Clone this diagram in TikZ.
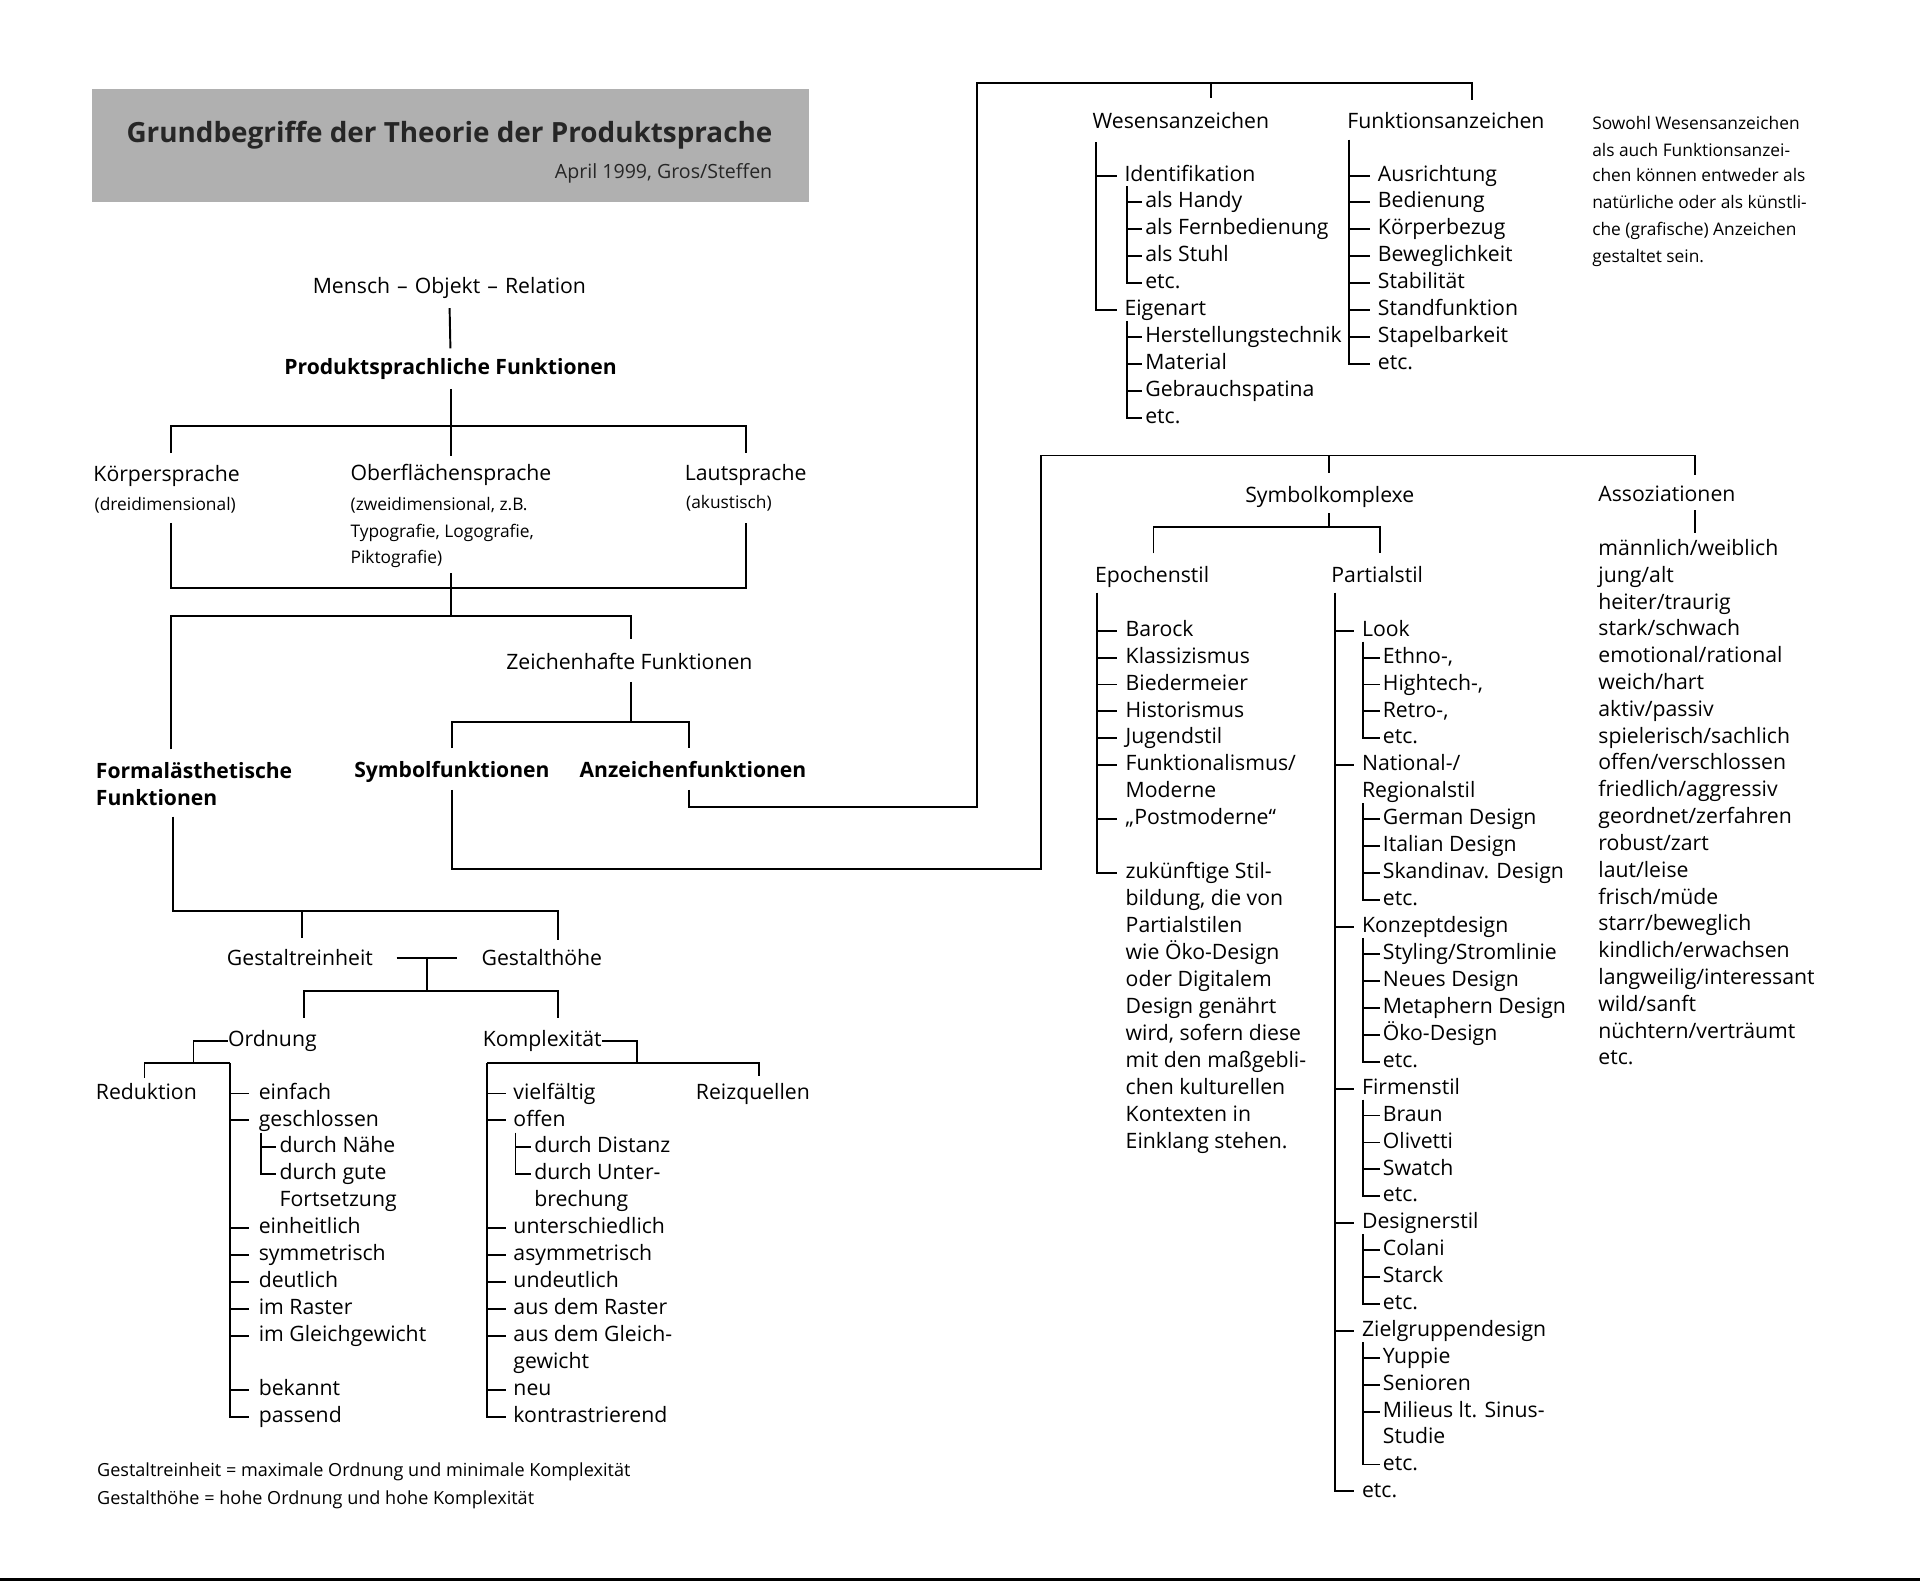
\documentclass[tikz,border=0pt]{standalone}
\usepackage{fontspec}
\setmainfont{Open Sans}
\newcommand\fsM{\fontsize{10.4pt}{12pt}\selectfont}
\newcommand\fsB{\fontsize{10.35pt}{12pt}\selectfont\bfseries}
\newcommand\fsS{\fontsize{8.5pt}{10pt}\selectfont}
\newcommand\fsF{\fontsize{8.85pt}{10pt}\selectfont}
\newcommand\fsU{\fontsize{9.6pt}{11pt}\selectfont}
\newcommand\fsT{\fontsize{13.65pt}{16pt}\selectfont\bfseries}
\begin{document}
\begin{tikzpicture}[x=0.6pt,y=-0.6pt,
  ln/.style={line width=0.95pt},
  lbl/.style={inner sep=0pt, anchor=west, text height=0.75em, text depth=0.2em, font=\fsM, yshift=-1.2pt},
  hd/.style={lbl, font=\fsB},
  sm/.style={lbl, font=\fsS},
  fnote/.style={lbl, font=\fsF}]
\useasboundingbox (0,0) rectangle (1568,1292.8);
\draw[line width=1.6pt] (0,1290) -- (1568,1290);

% title
\node[fill=black!31, inner sep=0pt, minimum width=351pt, minimum height=55.8pt, anchor=north west] (tbox) at (75,72) {};
\node[font=\fsT, text=black!85, anchor=base west, inner sep=0pt] (title) at (103,116) {Grundbegriffe der Theorie der Produktsprache};
\node[font=\fsU, text=black!85, anchor=base east, inner sep=0pt] (subt) at (631,146) {April 1999, Gros/Steffen};

% central tree
\node[lbl, anchor=center] (mor) at (367,233) {Mensch\,\,--\,\,Objekt\,\,--\,\,Relation};
\node[hd, anchor=center] (ppf) at (368,299) {Produktsprachliche Funktionen};
\draw[ln, shorten <=5pt, shorten >=5pt] (mor.south) -- (ppf.north);
\coordinate (j1) at (368,372);
\draw[ln, shorten <=5pt] (ppf.south) -- (j1);
\coordinate (j2) at (140,370); \coordinate (j3) at (609,370);
\coordinate (j4) at (140,348); \coordinate (j5) at (609,348);
\draw[ln] (j2) -- (j4) -- (j5) -- (j3);

\node[lbl] (koe) at (76,387) {Körpersprache};
\node[sm] (koe2) at (77,410) {(dreidimensional)};
\node[lbl] (ofl) at (286,386) {Oberflächensprache};
\node[sm] (ofl2) at (286,410) {(zweidimensional, z.B.};
\node[sm] (ofl3) at (286,432) {Typografie, Logografie,};
\node[sm] (ofl4) at (286,454) {Piktografie)};
\node[lbl] (lau) at (559,386) {Lautsprache};
\node[sm] (lau2) at (560,409) {(akustisch)};

\coordinate (k1) at (140,427); \coordinate (k2) at (140,480);
\coordinate (k3) at (609,480); \coordinate (k4) at (609,427);
\draw[ln] (k1) -- (k2) -- (k3) -- (k4);
\coordinate (k5) at (368,468); \coordinate (k6) at (368,503);
\draw[ln] (k5) -- (k6);
\coordinate (l1) at (140,612); \coordinate (l2) at (515,503); \coordinate (l3) at (515,522);
\draw[ln] (l1) |- (l2) -- (l3);

\node[lbl, anchor=center] (zf) at (514,540) {Zeichenhafte Funktionen};
\coordinate (m1) at (515,590);
\draw[ln, shorten <=4pt] (zf.south -| m1) -- (m1);
\coordinate (m2) at (369,611); \coordinate (m3) at (563,611);
\draw[ln] (m2) |- (m1) -| (m3);

\node[hd] (fae) at (78,629) {Formalästhetische};
\node[hd] (fae2) at (78,651) {Funktionen};
\node[hd] (syf) at (289,628) {Symbolfunktionen};
\node[hd] (azf) at (473,628) {Anzeichenfunktionen};

% Anzeichen route
\coordinate (n1) at (563,645); \coordinate (n2) at (798,659);
\coordinate (n3) at (798,68); \coordinate (n4) at (1202,82);
\coordinate (n5) at (989,68); \coordinate (n6) at (989,80);
\draw[ln] (n1) |- (n2) -- (n3) -| (n4);
\draw[ln] (n5) -- (n6);

% Symbol route
\coordinate (s1) at (369,645); \coordinate (s2) at (850,710);
\coordinate (s3) at (850,372); \coordinate (s4) at (1384,388);
\coordinate (s5) at (1085,372); \coordinate (s6) at (1085,386);
\draw[ln] (s1) |- (s2) -- (s3) -| (s4);
\draw[ln] (s5) -- (s6);

% Formal route
\coordinate (p1) at (141,667); \coordinate (p2) at (456,744); \coordinate (p3) at (456,768);
\coordinate (p4) at (247,744); \coordinate (p5) at (247,766);
\draw[ln] (p1) |- (p2) -- (p3);
\draw[ln] (p4) -- (p5);

\node[lbl] (gr) at (185,782) {Gestaltreinheit};
\node[lbl] (gh) at (393,782) {Gestalthöhe};
\coordinate (q1) at (324,782); \coordinate (q2) at (373,782);
\coordinate (q3) at (349,782); \coordinate (q4) at (349,809);
\coordinate (q5) at (248,831); \coordinate (q6) at (456,809); \coordinate (q7) at (456,831);
\draw[ln] (q1) -- (q2);
\draw[ln] (q3) -- (q4);
\draw[ln] (q5) |- (q6) -- (q7);

% Ordnung
\node[lbl] (ord) at (186,848) {Ordnung};
\coordinate (r1) at (158,868);
\draw[ln] (ord.west) -| (r1);
\coordinate (r2) at (118,880); \coordinate (rsp) at (188,868);
\draw[ln] (r2) |- (rsp);
\node[lbl] (red) at (78,891) {Reduktion};
\foreach \y/\n/\t in {891/oa/{einfach}, 913/ob/{geschlossen}, 1001/oc/{einheitlich}, 1023/od/{symmetrisch}, 1045/oe/{deutlich}, 1067/of/{im Raster}, 1089/og/{im Gleichgewicht}, 1133/oh/{bekannt}, 1155/oi/{passend}}
  \node[lbl] (\n) at (211,\y) {\t};
\node[lbl] (osa) at (228,935) {durch Nähe};
\node[lbl] (osb) at (228,957) {durch gute};
\node[lbl] (osc) at (228,979) {Fortsetzung};
\foreach \n in {oa,ob,oc,od,oe,of,og,oh}
  \draw[ln] (\n.west -| rsp) -- ([xshift=-4.8pt]\n.west);
\draw[ln] (rsp) |- ([xshift=-4.8pt]oi.west);
\coordinate (osp) at (213,925);
\draw[ln] (osa.west -| osp) -- ([xshift=-1.5pt]osa.west);
\draw[ln] (osp) |- ([xshift=-1.5pt]osb.west);

% Komplexitaet
\node[lbl] (kpx) at (394,848) {Komplexität};
\coordinate (t1) at (520,868);
\draw[ln] (kpx.east) -| (t1);
\coordinate (tsp) at (398,868); \coordinate (t2) at (620,879);
\draw[ln] (tsp) -| (t2);
\node[lbl] (rzq) at (568,891) {Reizquellen};
\foreach \y/\n/\t in {891/ka/{vielfältig}, 913/kb/{offen}, 1001/kc/{unterschiedlich}, 1023/kd/{asymmetrisch}, 1045/ke/{undeutlich}, 1067/kf/{aus dem Raster}, 1089/kg/{aus dem Gleich-}, 1133/kh/{neu}, 1155/ki/{kontrastrierend}}
  \node[lbl] (\n) at (419,\y) {\t};
\node[lbl] (kg2) at (419,1111) {gewicht};
\node[lbl] (ksa) at (436,935) {durch Distanz};
\node[lbl] (ksb) at (436,957) {durch Unter-};
\node[lbl] (ksc) at (436,979) {brechung};
\foreach \n in {ka,kb,kc,kd,ke,kf,kg,kh}
  \draw[ln] (\n.west -| tsp) -- ([xshift=-3.6pt]\n.west);
\draw[ln] (tsp) |- ([xshift=-3.6pt]ki.west);
\coordinate (ksp) at (421,925);
\draw[ln] (ksa.west -| ksp) -- ([xshift=-1.5pt]ksa.west);
\draw[ln] (ksp) |- ([xshift=-1.5pt]ksb.west);

\node[fnote] (fn1) at (79,1199) {Gestaltreinheit = maximale Ordnung und minimale Komplexität};
\node[fnote] (fn2) at (79,1222) {Gestalthöhe = hohe Ordnung und hohe Komplexität};

% Wesens- / Funktionsanzeichen
\node[lbl] (wes) at (892,98) {Wesensanzeichen};
\node[lbl] (fkt) at (1100,98) {Funktionsanzeichen};
\coordinate (wsp) at (895,116);
\node[lbl] (wa) at (918,142) {Identifikation};
\node[lbl] (wb) at (918,251) {Eigenart};
\draw[ln] (wa.west -| wsp) -- ([xshift=-3.6pt]wa.west);
\draw[ln] (wsp) |- ([xshift=-3.6pt]wb.west);
\foreach \y/\n/\t in {163/wa1/{als Handy}, 185/wa2/{als Fernbedienung}, 207/wa3/{als Stuhl}, 229/wa4/{etc.}, 273/wb1/{Herstellungstechnik}, 295/wb2/{Material}, 317/wb3/{Gebrauchspatina}, 339/wb4/{etc.}}
  \node[lbl] (\n) at (935,\y) {\t};
\coordinate (wasp) at (920,152); \coordinate (wbsp) at (920,262);
\foreach \n in {wa1,wa2,wa3}
  \draw[ln] (\n.west -| wasp) -- ([xshift=-1.2pt]\n.west);
\draw[ln] (wasp) |- ([xshift=-1.2pt]wa4.west);
\foreach \n in {wb1,wb2,wb3}
  \draw[ln] (\n.west -| wbsp) -- ([xshift=-1.2pt]\n.west);
\draw[ln] (wbsp) |- ([xshift=-1.2pt]wb4.west);

\coordinate (fsp) at (1102,114);
\foreach \y/\n/\t in {142/fa/{Ausrichtung}, 163/fb/{Bedienung}, 185/fc/{Körperbezug}, 207/fd/{Beweglichkeit}, 229/fe/{Stabilität}, 251/ff/{Standfunktion}, 273/fg/{Stapelbarkeit}, 295/fh/{etc.}}
  \node[lbl] (\n) at (1125,\y) {\t};
\foreach \n in {fa,fb,fc,fd,fe,ff,fg}
  \draw[ln] (\n.west -| fsp) -- ([xshift=-3.6pt]\n.west);
\draw[ln] (fsp) |- ([xshift=-3.6pt]fh.west);

\foreach \y/\n/\t in {99/na1/{Sowohl Wesensanzeichen}, 121/na2/{als auch Funktionsanzei-}, 142/na3/{chen können entweder als}, 164/na4/{natürliche oder als künstli-}, 186/na5/{che (grafische) Anzeichen}, 208/na6/{gestaltet sein.}}
  \node[sm] (\n) at (1300,\y) {\t};

% Symbolkomplexe
\node[lbl, anchor=center] (syk) at (1086,404) {Symbolkomplexe};
\coordinate (u1) at (1085,430);
\draw[ln, shorten <=3pt] (syk.south -| u1) -- (u1);
\coordinate (u2) at (942,452); \coordinate (u3) at (1127,452);
\draw[ln] (u2) |- (u1) -| (u3);
\node[lbl] (eps) at (894,469) {Epochenstil};
\node[lbl] (pas) at (1087,469) {Partialstil};

\coordinate (esp) at (896,484);
\foreach \y/\n/\t in {513/ea/{Barock}, 535/eb/{Klassizismus}, 557/ec/{Biedermeier}, 579/ed/{Historismus}, 601/ee/{Jugendstil}, 623/ef/{Funktionalismus/}, 645/ef2/{Moderne}, 667/eg/{„Postmoderne“}, 711/eh/{zukünftige Stil-}, 733/eh1/{bildung, die von}, 755/eh2/{Partialstilen}, 777/eh3/{wie Öko-Design}, 799/eh4/{oder Digitalem}, 821/eh5/{Design genährt}, 843/eh6/{wird, sofern diese}, 865/eh7/{mit den maßgebli-}, 887/eh8/{chen kulturellen}, 909/eh9/{Kontexten in}, 931/eh10/{Einklang stehen.}}
  \node[lbl] (\n) at (919,\y) {\t};
\foreach \n in {ea,eb,ec,ed,ee,ef,eg}
  \draw[ln] (\n.west -| esp) -- ([xshift=-4pt]\n.west);
\draw[ln] (esp) |- ([xshift=-4pt]eh.west);

\coordinate (psp) at (1090,484);
\foreach \y/\n/\t in {513/pa/{Look}, 623/pb/{National-/}, 645/pb2/{Regionalstil}, 755/pc/{Konzeptdesign}, 887/pd/{Firmenstil}, 997/pe/{Designerstil}, 1085/pf/{Zielgruppendesign}, 1216/pg/{etc.}}
  \node[lbl] (\n) at (1112,\y) {\t};
\foreach \n in {pa,pb,pc,pd,pe,pf}
  \draw[ln] (\n.west -| psp) -- ([xshift=-3.6pt]\n.west);
\draw[ln] (psp) |- ([xshift=-3.6pt]pg.west);

\foreach \y/\n/\t in {535/la1/{Ethno-,}, 557/la2/{Hightech-,}, 579/la3/{Retro-,}, 601/la4/{etc.}, 667/nb1/{German Design}, 689/nb2/{Italian Design}, 711/nb3/{Skandinav. Design}, 733/nb4/{etc.}, 777/kz1/{Styling/Stromlinie}, 799/kz2/{Neues Design}, 821/kz3/{Metaphern Design}, 843/kz4/{Öko-Design}, 865/kz5/{etc.}, 909/fi1/{Braun}, 931/fi2/{Olivetti}, 953/fi3/{Swatch}, 975/fi4/{etc.}, 1019/de1/{Colani}, 1041/de2/{Starck}, 1063/de3/{etc.}, 1107/zg1/{Yuppie}, 1129/zg2/{Senioren}, 1151/zg3/{Milieus lt. Sinus-}, 1172/zg3b/{Studie}, 1194/zg4/{etc.}}
  \node[lbl] (\n) at (1129,\y) {\t};
\coordinate (lasp) at (1113,524); \coordinate (nbsp) at (1113,656);
\coordinate (kzsp) at (1113,766); \coordinate (fisp) at (1113,898);
\coordinate (desp) at (1113,1008); \coordinate (zgsp) at (1113,1096);
\foreach \n in {la1,la2,la3} \draw[ln] (\n.west -| lasp) -- ([xshift=-1.2pt]\n.west);
\draw[ln] (lasp) |- ([xshift=-1.2pt]la4.west);
\foreach \n in {nb1,nb2,nb3} \draw[ln] (\n.west -| nbsp) -- ([xshift=-1.2pt]\n.west);
\draw[ln] (nbsp) |- ([xshift=-1.2pt]nb4.west);
\foreach \n in {kz1,kz2,kz3,kz4} \draw[ln] (\n.west -| kzsp) -- ([xshift=-1.2pt]\n.west);
\draw[ln] (kzsp) |- ([xshift=-1.2pt]kz5.west);
\foreach \n in {fi1,fi2,fi3} \draw[ln] (\n.west -| fisp) -- ([xshift=-1.2pt]\n.west);
\draw[ln] (fisp) |- ([xshift=-1.2pt]fi4.west);
\foreach \n in {de1,de2} \draw[ln] (\n.west -| desp) -- ([xshift=-1.2pt]\n.west);
\draw[ln] (desp) |- ([xshift=-1.2pt]de3.west);
\foreach \n in {zg1,zg2,zg3} \draw[ln] (\n.west -| zgsp) -- ([xshift=-1.2pt]\n.west);
\draw[ln] (zgsp) |- ([xshift=-1.2pt]zg4.west);

% Assoziationen
\node[lbl] (ass) at (1305,403) {Assoziationen};
\coordinate (v1) at (1384,435);
\draw[ln, shorten <=2pt] (ass.south -| v1) -- (v1);
\foreach \t [count=\i] in {{männlich/weiblich}, {jung/alt}, {heiter/traurig}, {stark/schwach}, {emotional/rational}, {weich/hart}, {aktiv/passiv}, {spielerisch/sachlich}, {offen/verschlossen}, {friedlich/aggressiv}, {geordnet/zerfahren}, {robust/zart}, {laut/leise}, {frisch/müde}, {starr/beweglich}, {kindlich/erwachsen}, {langweilig/interessant}, {wild/sanft}, {nüchtern/verträumt}, {etc.}}
  \node[lbl] (as\i) at (1305,{425.1+21.9*\i}) {\t};
\end{tikzpicture}
\end{document}
